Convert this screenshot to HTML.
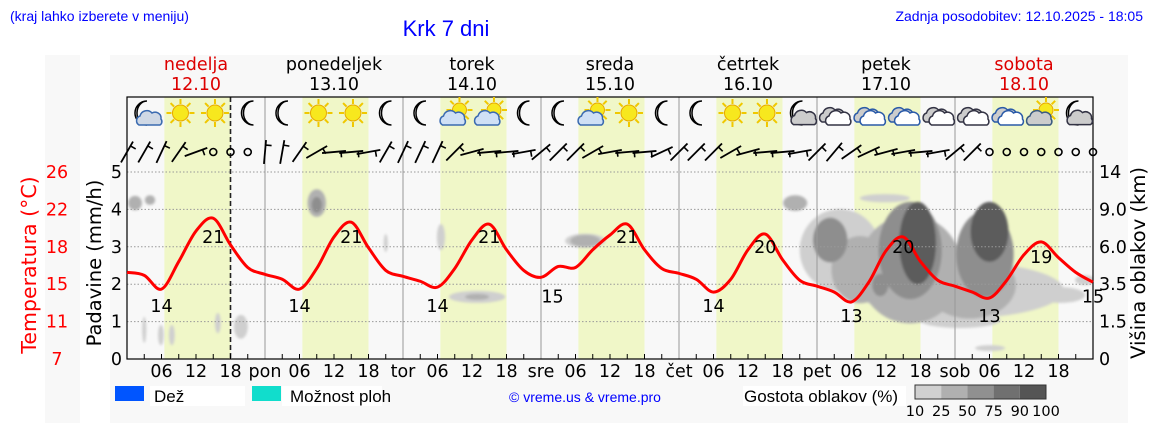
<!DOCTYPE html>
<html><head><meta charset="utf-8">
<style>
html,body{margin:0;padding:0;background:#fff;}
svg{display:block;font-family:"DejaVu Sans","Liberation Sans",sans-serif;}
.lib{font-family:"Liberation Sans",sans-serif;}
</style></head>
<body>
<svg id="chart" width="1152" height="443" viewBox="0 0 1152 443" xmlns="http://www.w3.org/2000/svg">
<defs>
<filter id="blur" x="-20%" y="-20%" width="140%" height="140%"><feGaussianBlur stdDeviation="1.4"/></filter>
<clipPath id="plotclip"><rect x="127" y="97" width="966" height="262"/></clipPath>
</defs>
<rect x="45" y="55" width="35" height="368" fill="#f8f8f8"/>
<rect x="110" y="55" width="1018" height="368" fill="#f8f8f8"/>
<text class="lib" x="10" y="21" font-size="14" fill="#0000ff">(kraj lahko izberete v meniju)</text>
<text class="lib" x="446" y="36" font-size="22" fill="#0000ff" text-anchor="middle">Krk 7 dni</text>
<text class="lib" x="1143" y="21" font-size="14" fill="#0000ff" text-anchor="end">Zadnja posodobitev: 12.10.2025 - 18:05</text>
<g id="bg"></g>
<g id="clouds" clip-path="url(#plotclip)" filter="url(#blur)"></g>
<g id="grid"></g>
<g id="temp"></g>
<g id="icons"></g>
<g id="wind"></g>
<g id="axes"></g>
<g id="legend" class="lib">
<rect x="115" y="386" width="29" height="15" fill="#0055ff"/>
<rect x="150" y="386" width="95" height="20" fill="#fff"/>
<text x="154" y="402" font-size="17" fill="#000">Dež</text>
<rect x="252" y="386" width="29" height="15" fill="#11ddcc"/>
<rect x="282" y="386" width="100" height="20" fill="#fff"/>
<text x="290" y="402" font-size="17" fill="#000">Možnost ploh</text>
<text x="585" y="402" font-size="14" fill="#0000ff" text-anchor="middle">© vreme.us &amp; vreme.pro</text>
<rect x="743" y="386" width="163" height="20" fill="#fff"/>
<text x="744" y="402" font-size="17" fill="#000">Gostota oblakov (%)</text>
</g>
</svg>
<script>
const NS='http://www.w3.org/2000/svg';
// ---- data ----
const dayNames=['nedelja','ponedeljek','torek','sreda','četrtek','petek','sobota'];
const dayDates=['12.10','13.10','14.10','15.10','16.10','17.10','18.10'];
const dayAbbr=['pon','tor','sre','čet','pet','sob'];
const tempValues=[15.8,15.5,14.1,16.9,20.0,21.3,18.6,16.3,
15.6,15.1,14.1,16.2,19.4,20.9,18.3,16.0,
15.4,14.9,14.3,16.2,19.1,20.7,18.1,16.0,
15.3,16.4,16.3,18.1,19.6,20.7,18.1,16.2,
15.7,15.1,13.8,15.1,18.1,19.7,17.1,15.0,
14.4,13.8,12.8,14.8,18.0,19.4,16.9,15.0,
14.4,13.8,13.2,15.0,17.6,18.9,17.3,15.8,14.8];
const tempLabelHours=[6,15,30,39,54,63,74,87,102,111,126,135,150,159,168];
const tempLabelValues=[14,21,14,21,14,21,15,21,14,20,13,20,13,19,15];
const iconTypes=['moonCloud','sun','sun','moon','moon','sun','sun','moon','moon','sunCloud','sunCloud','moon',
'moon','sunCloud','sun','moon','moon','sun','sun','moonCloudGray','cloudsGray','cloudsWhite','cloudsWhite','cloudsGray',
'cloudsGray','cloudsWhite','sunCloudGray','moonCloudGray'];
const windAngles=[60,60,65,55,20,-10,-1,-1, 85,80,55,30,5,5,10,60, 65,65,65,45,15,5,5,10,
40,45,45,30,10,5,5,25, 45,45,45,30,15,5,5,10, 45,50,35,25,15,10,5,10, 40,45,-1,-1,-1,-1,-1,-1,-1];
const precipTicks=[0,1,2,3,4,5];
const tempTicks=[7,11,15,18,22,26];
const heightTicks=['0','1.5','3.5','6.0','9.0','14'];
// cloud blobs: hour, level(mm units), rx hours, ry mm units, density level
const cloudHour=[1.4,4.0,3.0,5.9,7.8,15.8,19.8,33.0,33.0,45.0,54.6,60.9,60.9,79.7,79.7,
116.2,124.0,122.3,127.5,131.0,136.2,136.2,137.5,131.8,144.9,144.9,146.6,149.2,150.0,162.3,166.6,150.1];
const cloudLevel=[4.17,4.25,0.78,0.64,0.64,0.96,0.86,4.17,4.12,3.1,3.26,1.66,1.66,3.16,3.16,
4.17,2.91,3.18,2.39,1.98,2.4,2.9,3.1,4.3,1.84,1.04,1.98,2.8,3.4,1.71,2.11,0.29];
const cloudRx=[1.2,0.9,0.35,0.5,0.5,0.5,1.2,1.6,0.9,0.35,0.7,4.9,2.1,3.5,2.6,
2.1,7.0,3.0,5.0,1.4,9.0,5.5,3.2,4.35,18.0,7.0,8.0,5.0,3.3,4.35,1.7,2.6];
const cloudRy=[0.19,0.13,0.35,0.27,0.27,0.27,0.32,0.37,0.21,0.24,0.35,0.16,0.08,0.19,0.16,
0.21,1.1,0.6,0.9,0.3,1.45,1.3,1.1,0.11,0.75,0.21,0.9,1.15,0.8,0.21,0.13,0.08];
const cloudDensity=[2,2,1,1,1,1,1,2,3,1,1,1,2,1,2,
2,1,3,2,3,2,3,4,1,1,1,2,3,4,1,1,1];
const densityColors=['#d8d8d8','#cfcfcf','#b0b0b0','#8e8e8e','#5c5c5c'];
const legendLabels=['10','25','50','75','90','100'];
// ---- axes ----
const X0=127,X1=1093,Y0=359,YT=97;
const FS=17.5;
const xH=h=>X0+h*(X1-X0)/168;
const yP=v=>Y0-v*37.4;
const yT=t=>Y0-(t-7)*187/19;
function el(tag,attrs,parent,txt){const e=document.createElementNS(NS,tag);for(const k in attrs)e.setAttribute(k,attrs[k]);if(txt!==undefined)e.textContent=txt;parent.appendChild(e);return e;}
const bg=document.getElementById('bg'),grid=document.getElementById('grid'),axes=document.getElementById('axes');
el('rect',{x:X0,y:YT,width:X1-X0,height:Y0-YT,fill:'#f8f8f8'},bg);
for(let d=0;d<7;d++){
 const r=el('rect',{x:xH(d*24+6.5),y:YT,width:xH(18)-xH(6.5),height:Y0-YT,fill:'#f0f7c8'},bg);
 
 
 const t1=el('text',{x:xH(d*24+12),y:70,'font-size':FS,'text-anchor':'middle',fill:(d===0||d===6)?'#dd0000':'#000'},axes,dayNames[d]);
 
 
 const t2=el('text',{x:xH(d*24+12),y:90,'font-size':FS,'text-anchor':'middle',fill:(d===0||d===6)?'#dd0000':'#000'},axes,dayDates[d]);
 
 
}
// clouds
const cg=document.getElementById('clouds');
const order=cloudHour.map((_,i)=>i).sort((a,b)=>cloudDensity[a]-cloudDensity[b]);
order.forEach(i=>{
 const e=el('ellipse',{cx:xH(cloudHour[i]),cy:yP(cloudLevel[i]),rx:xH(cloudRx[i])-X0,ry:cloudRy[i]*37.4,fill:densityColors[cloudDensity[i]]},cg);
 
 
});
// grid
precipTicks.forEach(v=>{
 if(v>0)el('line',{x1:X0,x2:X1,y1:yP(v),y2:yP(v),stroke:'#999','stroke-dasharray':'1.5,2','stroke-width':1},grid);
 const t=el('text',{x:122,y:yP(v)+6,'font-size':FS,'text-anchor':'end'},axes,String(v));
 
 
});
tempTicks.forEach((v,i)=>{
 const t=el('text',{x:57,y:yP(i)+6,'font-size':FS,'text-anchor':'middle',fill:'#ff0000'},axes,String(v));
 
 
});
heightTicks.forEach((v,i)=>{
 const t=el('text',{x:1099,y:yP(i)+6,'font-size':FS},axes,v);
 
 
});
for(let d=1;d<7;d++)el('line',{x1:xH(d*24),x2:xH(d*24),y1:YT,y2:Y0,stroke:'#999','stroke-width':1},grid);
el('line',{x1:xH(18),x2:xH(18),y1:YT,y2:Y0,stroke:'#222','stroke-width':1.6,'stroke-dasharray':'5,3'},grid);
el('rect',{x:X0,y:YT,width:X1-X0,height:Y0-YT,fill:'none',stroke:'#000','stroke-width':1.2},grid);
for(let h=3;h<168;h+=3)el('line',{x1:xH(h),x2:xH(h),y1:Y0,y2:Y0-(h%24===0?0:5),stroke:'#000'},grid);
for(let d=0;d<7;d++){
 [6,12,18].forEach(h=>{const t=el('text',{x:xH(d*24+h),y:377,'font-size':FS,'text-anchor':'middle'},axes,String(h).padStart(2,'0'));
 
 });
 if(d>0){const t=el('text',{x:xH(d*24),y:377,'font-size':FS,'text-anchor':'middle'},axes,dayAbbr[d-1]);
 
 }
}
let a=el('text',{transform:'translate(101,263) rotate(-90)','font-size':19.5,'text-anchor':'middle'},axes,'Padavine (mm/h)');


a=el('text',{transform:'translate(36,265) rotate(-90)','font-size':20.5,'text-anchor':'middle',fill:'#ff0000'},axes,'Temperatura (°C)');


a=el('text',{transform:'translate(1145,263) rotate(-90)','font-size':19.5,'text-anchor':'middle'},axes,'Višina oblakov (km)');


// temperature (smoothed Catmull-Rom)
const tg=document.getElementById('temp');
const pts=tempValues.map((t,i)=>[xH(i*3),yT(t)]);
let d='M'+pts[0][0]+','+pts[0][1];
for(let i=0;i<pts.length-1;i++){
 const p0=pts[Math.max(0,i-1)],p1=pts[i],p2=pts[i+1],p3=pts[Math.min(pts.length-1,i+2)];
 const c1=[p1[0]+(p2[0]-p0[0])/6,p1[1]+(p2[1]-p0[1])/6],c2=[p2[0]-(p3[0]-p1[0])/6,p2[1]-(p3[1]-p1[1])/6];
 d+=` C${c1[0]},${c1[1]} ${c2[0]},${c2[1]} ${p2[0]},${p2[1]}`;
}
const pl=el('path',{d:d,fill:'none',stroke:'#ff0000','stroke-width':3,'stroke-linejoin':'round'},tg);


tempLabelHours.forEach((h,i)=>{
 const t=el('text',{x:Math.min(xH(h),1093),y:yT(tempLabelValues[i])+22,'font-size':FS,'text-anchor':'middle'},tg,String(tempLabelValues[i]));
 
 
});
// icons
const ig=document.getElementById('icons');
function sun(g,cx,cy,r){for(let k=0;k<8;k++){const an=k*Math.PI/4;el('line',{x1:cx+Math.cos(an)*(r+1),y1:cy+Math.sin(an)*(r+1),x2:cx+Math.cos(an)*(r+6),y2:cy+Math.sin(an)*(r+6),stroke:'#f0c800','stroke-width':2},g);}
 el('circle',{cx:cx,cy:cy,r:r,fill:'#f7e81e',stroke:'#e8a800','stroke-width':1},g);}
function moon(g,cx,cy){el('path',{d:`M${cx+4},${cy-12} A12,12 0 1,0 ${cx+4},${cy+12} A10,12 0 0,1 ${cx+4},${cy-12}Z`,fill:'#fff',stroke:'#000','stroke-width':1.5},g);}
function cloud(g,cx,cy,fill,stroke,s){s=s||1;el('path',{d:`M${cx-10*s},${cy+6*s} a5,5 0 0,1 1,-9 a7,7 0 0,1 12,-3 a6,6 0 0,1 9,6 a4,4 0 0,1 -1,6 Z`,fill:fill,stroke:stroke,'stroke-width':1.5},g);}
iconTypes.forEach((tp,i)=>{
 const cx=xH(i*6+3.3),cy=113;
 const g=el('g',{},ig);
 
 
 if(tp==='sun')sun(g,cx,cy,8);
 else if(tp==='moon')moon(g,cx,cy);
 else if(tp==='sunCloud'){sun(g,cx+3,cy-3,7);cloud(g,cx-4,cy+6,'#cfe0f5','#3a6ab0');}
 else if(tp==='sunCloudGray'){sun(g,cx+3,cy-3,7);cloud(g,cx-4,cy+6,'#cccccc','#3a5a80');}
 else if(tp==='moonCloud'){moon(g,cx-3,cy);cloud(g,cx+3,cy+6,'#cfd8e5','#3a6ab0');}
 else if(tp==='moonCloudGray'){moon(g,cx-3,cy);cloud(g,cx+3,cy+5,'#cccccc','#334',1.1);}
 else if(tp==='cloudsGray'){cloud(g,cx-4,cy+3,'#cccccc','#334');cloud(g,cx+2,cy+6,'#fff','#334');}
 else {cloud(g,cx-4,cy+3,'#cccccc','#2a5aa8');cloud(g,cx+2,cy+6,'#fff','#2a5aa8');}
});
// wind
const wg=document.getElementById('wind');
windAngles.forEach((an,i)=>{
 const cx=xH(i*3),cy=152;
 if(an<0){const c=el('circle',{cx:cx,cy:cy,r:3.5,fill:'none',stroke:'#000','stroke-width':1.6},wg);
  
  return;}
 const rad=an*Math.PI/180,L=24;
 const x1=cx-Math.cos(rad)*L/2,y1=cy+Math.sin(rad)*L/2,x2=cx+Math.cos(rad)*L/2,y2=cy-Math.sin(rad)*L/2;
 const g=el('g',{},wg);
 
 
 el('line',{x1:x1,y1:y1,x2:x2,y2:y2,stroke:'#000','stroke-width':1.8},g);
 const px=x2-Math.cos(rad)*5,py=y2+Math.sin(rad)*5;
 el('line',{x1:px,y1:py,x2:px+Math.sin(rad)*6,y2:py+Math.cos(rad)*6,stroke:'#000','stroke-width':1.6},g);
});
// colorbar
const lg=document.getElementById('legend');
for(let k=0;k<5;k++){const r=el('rect',{x:915+k*26.2,y:385,width:26.2,height:14,fill:['#d0d0d0','#b0b0b0','#909090','#707070','#555555'][k]},lg);
 
 }
el('rect',{x:915,y:385,width:131,height:14,fill:'none',stroke:'#333'},lg);
legendLabels.forEach((l,k)=>{const t=el('text',{x:915+k*26.2,y:416,'font-size':14.5,'text-anchor':'middle','font-family':'DejaVu Sans'},lg,l);
 
 });
</script>
</body></html>
